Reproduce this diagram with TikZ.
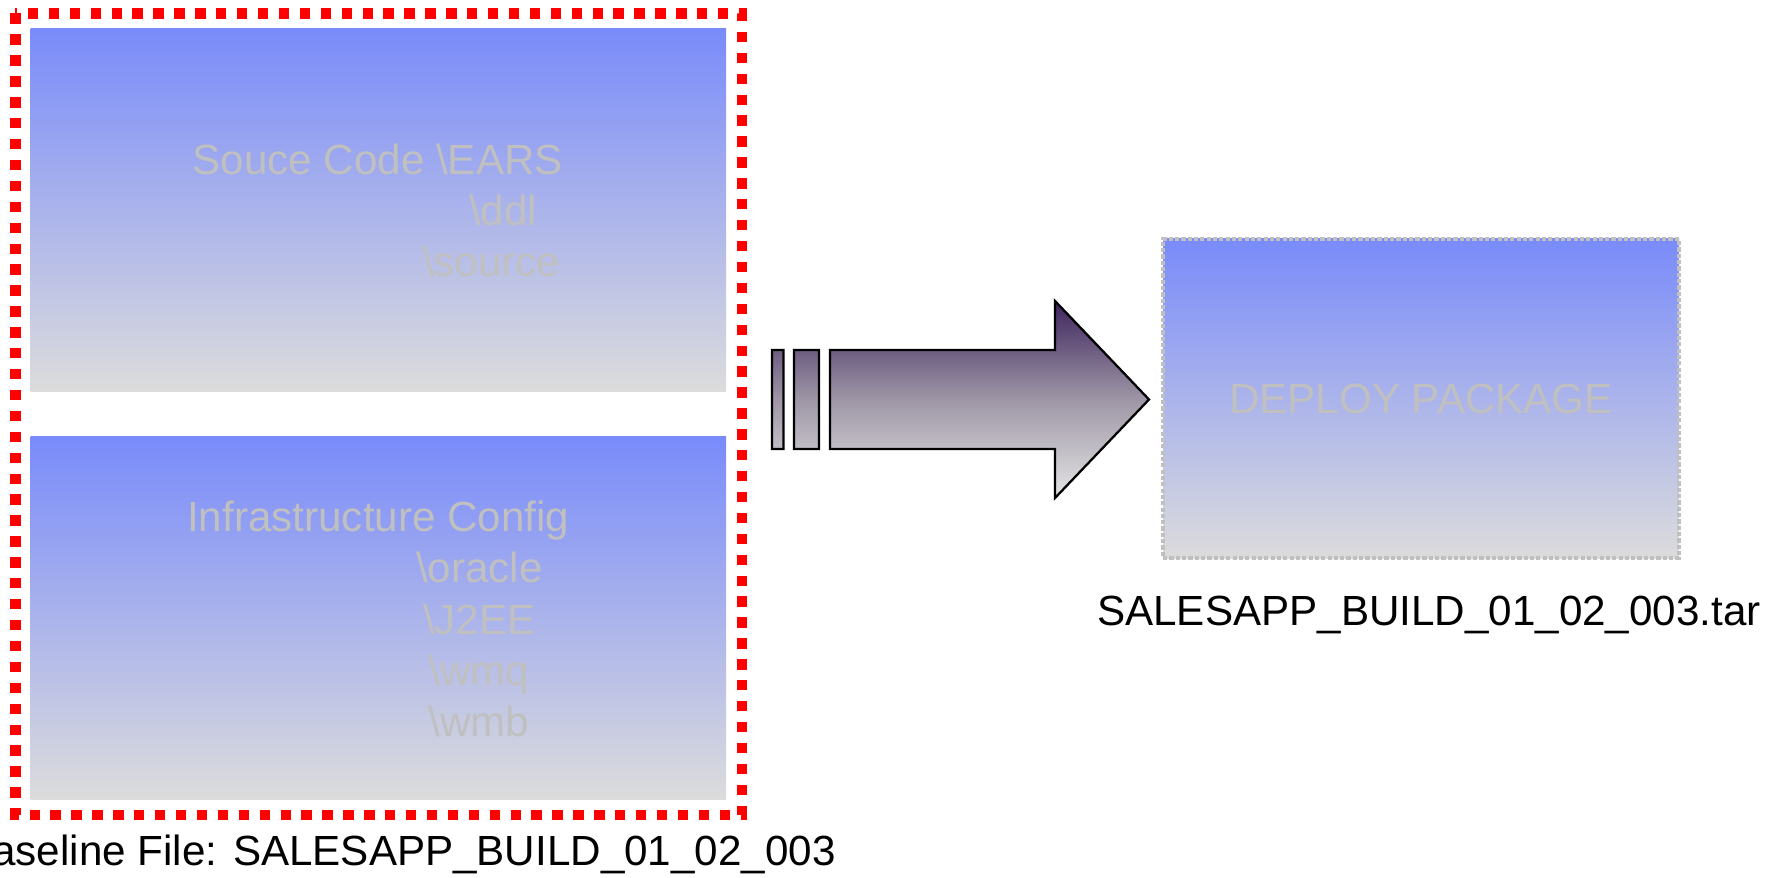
\documentclass[tikz,border=0pt]{standalone}
\usepackage{fontspec}
\setmainfont{Liberation Sans}
\usetikzlibrary{calc}

\definecolor{boxtop}{RGB}{121,139,250}
\definecolor{boxbot}{RGB}{220,220,220}
\definecolor{lightlbl}{RGB}{192,192,192}
\definecolor{arrtop}{RGB}{62,36,94}
\definecolor{arrmid}{RGB}{158,150,166}
\definecolor{arrbot}{RGB}{228,228,228}

\begin{document}
\begin{tikzpicture}[
		lbl/.style={inner sep=0pt, anchor=base, text=lightlbl, font=\fontsize{12}{14}\selectfont},
		filelbl/.style={inner sep=0pt, anchor=base, font=\fontsize{12}{14}\selectfont},
		bluebox/.style={rectangle, inner sep=0pt, top color=boxtop, bottom color=boxbot}]
		
		\useasboundingbox (0,0) rectangle (17.87,-8.78);
		%\draw[style=help lines, step=0.5, color=gray] (0,0) grid (17.87,-8.78);
		
		% baseline
		\node[bluebox, minimum width=6.955cm, minimum height=3.625cm] (srcbox) at (3.783,-2.098) {};
		\node[bluebox, minimum width=6.955cm, minimum height=3.62cm] (cfgbox) at (3.783,-6.18) {};
		\draw[red, line width=2.85pt, dash pattern=on 2.95pt off 3pt] (0.155,-0.135) rectangle (7.415,-8.15);
		
		\node[lbl] (ears) at (3.777,-1.75) {Souce Code \textbackslash EARS};
		\node[lbl] (ddl) at (5.03,-2.257) {\textbackslash ddl};
		\node[lbl] (source) at (4.912,-2.767) {\textbackslash source};
		\node[lbl] (infra) at (3.783,-5.317) {Infrastructure Config};
		\node[lbl] (oracle) at (4.793,-5.823) {\textbackslash oracle};
		\node[lbl] (jee) at (4.793,-6.34) {\textbackslash J2EE};
		\node[lbl] (wmq) at (4.79,-6.85) {\textbackslash wmq};
		\node[lbl] (wmb) at (4.79,-7.36) {\textbackslash wmb};
		\node[filelbl] (basefile) at (4.00,-8.65) {Baseline File: SALESAPP\_BUILD\_01\_02\_003};
		
		% striped arrow
		\shadedraw[line width=0.65pt, top color=arrtop, bottom color=arrbot, middle color=arrmid]
		(7.72,-3.50) rectangle (7.835,-4.49)
		(7.94,-3.50) rectangle (8.19,-4.49)
		(8.30,-3.50) -- (10.55,-3.50) -- (10.55,-3.01) -- (11.49,-3.995) -- (10.55,-4.98) -- (10.55,-4.49) -- (8.30,-4.49) -- cycle;
		
		% deploy package
		\node[bluebox, draw=lightlbl, line width=1.1pt, dash pattern=on 1.2pt off 0.6pt, minimum width=5.16cm, minimum height=3.19cm] (deploy) at (14.21,-3.985) {};
		\node[lbl] (deploytxt) at (14.21,-4.14) {DEPLOY PACKAGE};
		\node[filelbl] (tarfile) at (14.29,-6.25) {SALESAPP\_BUILD\_01\_02\_003.tar};
		
		\end{tikzpicture}
\end{document}
